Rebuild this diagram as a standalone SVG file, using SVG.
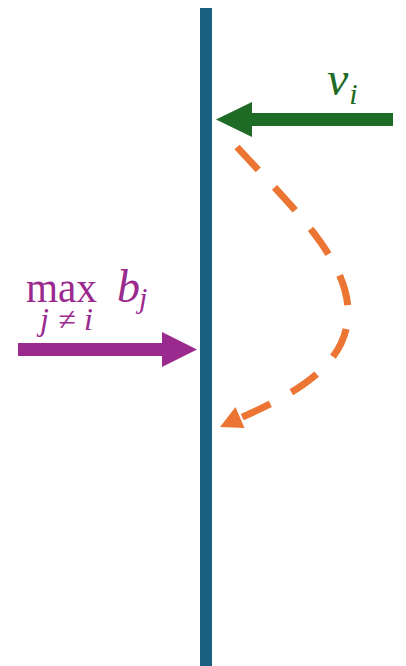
<svg xmlns="http://www.w3.org/2000/svg" width="406" height="666" viewBox="0 0 406 666">
<style>
.m{font-family:"Liberation Serif","DejaVu Serif",serif}
.it{font-style:italic}
.g{fill:#1d6b25}
.p{fill:#9b2a8f}
</style>
<rect width="406" height="666" fill="#ffffff"/>
<g id="wall"><rect x="200" y="8" width="12" height="658" fill="#17607f"/></g>
<g id="connectors">
<g id="value-arrow"><rect x="250" y="113" width="143" height="13" fill="#1d6b25"/><polygon points="216,119.5 252,102 252,137" fill="#1d6b25"/></g>
<g id="bid-arrow"><rect x="18" y="343" width="146" height="13" fill="#9b2a8f"/><polygon points="197,349.5 162,332 162,367" fill="#9b2a8f"/></g>
<g id="bounce"><path d="M237,147 C290,205 350,260 348,315 C346,370 285,398 238,419" fill="none" stroke="#ec7534" stroke-width="7" stroke-dasharray="31 24"/><polygon points="220,427 244.5,428 235.5,407" fill="#ec7534"/></g>
</g>
<g id="label-v">
<text class="m it g" x="327" y="95" font-size="48">v<tspan font-size="30" dx="1" dy="9">i</tspan></text>
</g>
<g id="label-max">
<text class="m p" x="26" y="302" font-size="44" textLength="71" lengthAdjust="spacingAndGlyphs">max</text>
<text class="m it p" x="117" y="302" font-size="46">b<tspan font-size="30" dx="-1" dy="6">j</tspan></text>
<text class="m it p" x="40" y="330" font-size="32" textLength="53" lengthAdjust="spacing">j≠i</text>
</g>
</svg>
